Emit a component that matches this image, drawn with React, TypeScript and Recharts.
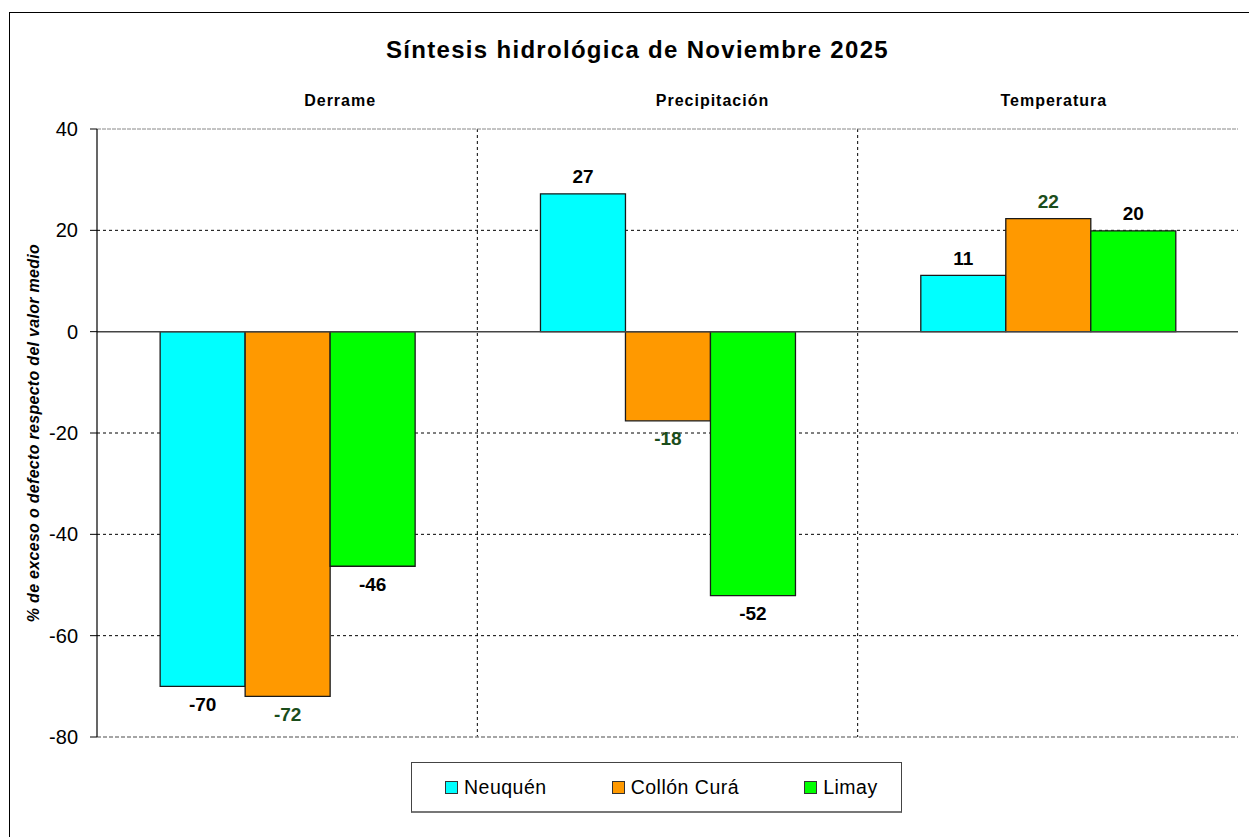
import React from 'react';
import {
  BarChart,
  Bar,
  XAxis,
  YAxis,
  CartesianGrid,
  ReferenceLine,
  Legend,
  LabelList,
} from 'recharts';

// Data
const categories = ['Derrame', 'Precipitación', 'Temperatura'];
const neuquen = [-70, 27.2, 11.1];
const collonCura = [-72, -17.6, 22.3];
const limay = [-46.3, -52.1, 19.9];
const yTicks = [40, 20, 0, -20, -40, -60, -80];
const innerGridValues = [20, -20, -40, -60];

const seriesNames = ['Neuquén', 'Collón Curá', 'Limay'];

const chartData = categories.map((cat, i) => ({
  name: cat,
  neuquen: neuquen[i],
  collon: collonCura[i],
  limay: limay[i],
}));

// hand offsets for the category headings (text boxes are not centred in the original)
const HEADING_DX = [53, 45, 6];

const FONT = '"Liberation Sans", Arial, Helvetica, sans-serif';

const COLORS = {
  neuquen: '#00FFFF',
  collon: '#FF9900',
  limay: '#00FF00',
};

function HeadingTick(props: any) {
  const { x, y, payload, index } = props;
  return (
    <text
      x={x + (HEADING_DX[index] || 0)}
      y={y - 21}
      textAnchor="middle"
      fontFamily={FONT}
      fontSize={16}
      fontWeight="bold"
      letterSpacing={1}
      fill="#000"
    >
      {payload.value}
    </text>
  );
}

function makeValueLabel(color: string) {
  return function ValueLabel(props: any) {
    const { x, y, width, height, value } = props;
    if (value == null) return null;
    const top = Math.min(y, y + height);
    const bottom = Math.max(y, y + height);
    const cy = value >= 0 ? top - 17 : bottom + 18;
    return (
      <text
        x={x + width / 2}
        y={cy}
        textAnchor="middle"
        dominantBaseline="central"
        fontFamily={FONT}
        fontSize={19}
        fontWeight="bold"
        fill={color}
      >
        {Math.round(value)}
      </text>
    );
  };
}

function YLabel(props: any) {
  const vb = props.viewBox || {};
  const cx = (vb.x || 0) + 33;
  const cy = (vb.y || 0) + (vb.height || 0) / 2;
  return (
    <text
      x={cx}
      y={cy}
      transform={`rotate(-90, ${cx}, ${cy})`}
      textAnchor="middle"
      dominantBaseline="central"
      fontFamily={FONT}
      fontSize={16}
      fontWeight="bold"
      fontStyle="italic"
      letterSpacing={0.3}
      fill="#000"
    >
      % de exceso o defecto respecto del valor medio
    </text>
  );
}

function LegendBox(props: any) {
  const payload = [...(props.payload || [])].sort(
    (a: any, b: any) => seriesNames.indexOf(a.value) - seriesNames.indexOf(b.value)
  );
  return (
    <div
      style={{
        boxSizing: 'border-box',
        width: 491,
        height: 51,
        border: '1px solid #444',
        borderBottom: '2px solid #777',
        display: 'flex',
        alignItems: 'center',
        paddingLeft: 33,
        gap: 65,
        background: '#fff',
        fontFamily: FONT,
      }}
    >
      {payload.map((entry: any, i: number) => (
        <div key={i} style={{ display: 'flex', alignItems: 'center' }}>
          <span
            style={{
              boxSizing: 'border-box',
              display: 'inline-block',
              width: 13,
              height: 13,
              background: entry.color,
              border: '1px solid #333',
            }}
          />
          <span style={{ marginLeft: 6, fontSize: 19.5, letterSpacing: 0.5, color: '#000' }}>
            {entry.value}
          </span>
        </div>
      ))}
    </div>
  );
}

const hGrid = (p: any) => {
  const s = p?.yAxis?.scale;
  if (typeof s === 'function') return innerGridValues.map((v) => s(v));
  const { top, height } = p.offset;
  return innerGridValues.map((v) => top + ((40 - v) / 120) * height);
};

const vGrid = (p: any) => {
  const s = p?.xAxis?.scale;
  if (typeof s === 'function' && typeof s.bandwidth === 'function') {
    return categories.slice(1).map((c) => s(c));
  }
  const { left, width } = p.offset;
  return categories.slice(1).map((_, i) => left + ((i + 1) * width) / categories.length);
};

export default function App() {
  return (
    <div
      style={{
        position: 'absolute',
        left: 0,
        top: 0,
        width: 1249,
        height: 837,
        overflow: 'hidden',
        background: '#fff',
        fontFamily: FONT,
      }}
    >
      <div
        style={{
          position: 'absolute',
          left: 9,
          top: 12,
          width: 1300,
          height: 900,
          borderLeft: '1.5px solid #000',
          borderTop: '1.5px solid #000',
        }}
      />
      <div
        style={{
          position: 'absolute',
          left: 0,
          width: 1275,
          top: 36,
          textAlign: 'center',
          fontSize: 24,
          fontWeight: 'bold',
          letterSpacing: 1.3,
          color: '#000',
        }}
      >
        Síntesis hidrológica de Noviembre 2025
      </div>
      <div style={{ position: 'absolute', left: 0, top: 0 }}>
        <BarChart
          width={1249}
          height={837}
          data={chartData}
          margin={{ top: 70, right: 11, bottom: 100, left: 0 }}
          barCategoryGap="16.6%"
          barGap={0}
        >
          <XAxis xAxisId="main" dataKey="name" hide />
          <XAxis
            xAxisId="top"
            dataKey="name"
            orientation="top"
            height={59}
            axisLine={false}
            tickLine={false}
            tickSize={0}
            tick={<HeadingTick />}
            interval={0}
          />
          <YAxis
            yAxisId="left"
            width={97}
            domain={[-80, 40]}
            ticks={yTicks}
            interval={0}
            tickSize={7}
            tickMargin={12}
            tick={{ fontSize: 20, fill: '#000', fontFamily: FONT }}
            stroke="#000"
            axisLine={{ stroke: '#000', strokeWidth: 1.2 }}
            tickLine={{ stroke: '#000' }}
            label={<YLabel />}
          />
          <YAxis
            yAxisId="right"
            orientation="right"
            width={0}
            domain={[-80, 40]}
            tick={false}
            tickLine={false}
            axisLine={{ stroke: '#888', strokeWidth: 1.2 }}
          />
          <CartesianGrid
            xAxisId="main"
            yAxisId="left"
            stroke="#000"
            strokeDasharray="3 3"
            horizontalCoordinatesGenerator={hGrid}
            verticalCoordinatesGenerator={vGrid}
          />
          <ReferenceLine xAxisId="main" yAxisId="left" y={40} stroke="#888" strokeDasharray="4 1" />
          <ReferenceLine xAxisId="main" yAxisId="left" y={-80} stroke="#888" strokeDasharray="4 2" strokeWidth={1.5} />
          <ReferenceLine xAxisId="main" yAxisId="left" y={0} stroke="#444" strokeWidth={1.5} />
          <Legend
            verticalAlign="middle"
            layout="horizontal"
            content={<LegendBox />}
            wrapperStyle={{ left: 411, top: 762, width: 491, height: 51 }}
          />
          <Bar
            xAxisId="main"
            yAxisId="left"
            dataKey="neuquen"
            name={seriesNames[0]}
            fill={COLORS.neuquen}
            stroke="#1a1a1a"
            strokeWidth={1.3}
            isAnimationActive={false}
          >
            <LabelList dataKey="neuquen" content={makeValueLabel('#000')} />
          </Bar>
          <Bar
            xAxisId="main"
            yAxisId="left"
            dataKey="collon"
            name={seriesNames[1]}
            fill={COLORS.collon}
            stroke="#1a1a1a"
            strokeWidth={1.3}
            isAnimationActive={false}
          >
            <LabelList dataKey="collon" content={makeValueLabel('#1B4D1B')} />
          </Bar>
          <Bar
            xAxisId="main"
            yAxisId="left"
            dataKey="limay"
            name={seriesNames[2]}
            fill={COLORS.limay}
            stroke="#1a1a1a"
            strokeWidth={1.3}
            isAnimationActive={false}
          >
            <LabelList dataKey="limay" content={makeValueLabel('#000')} />
          </Bar>
        </BarChart>
      </div>
    </div>
  );
}
